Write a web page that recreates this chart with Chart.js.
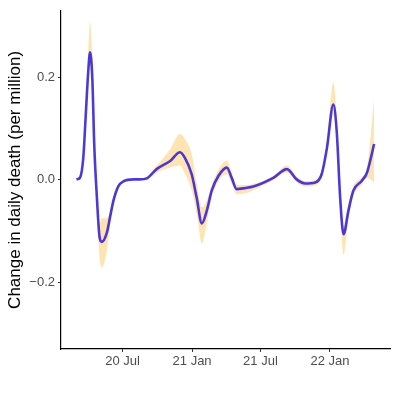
<!DOCTYPE html>
<html lang="en">
<head>
    <meta charset="UTF-8">
    <title>Change in daily death</title>
    <style>
        html, body {
            margin: 0;
            padding: 0;
            background: #ffffff;
        }
        #wrap {
            width: 397px;
            height: 397px;
        }
    </style>
    <script src="https://cdn.jsdelivr.net/npm/chart.js"></script>
</head>
<body>
    <div id="wrap"><canvas id="deathChart" width="397" height="397"></canvas></div>
    <script>
        // smoothed estimate and its interval
        const dates = [
            '2020-03-01', '2020-03-10', '2020-03-19', '2020-03-26', '2020-04-01', '2020-04-06',
            '2020-04-12', '2020-04-17', '2020-04-24', '2020-05-01', '2020-05-07', '2020-05-20',
            '2020-05-29', '2020-06-07', '2020-06-20', '2020-07-03', '2020-07-30', '2020-08-16',
            '2020-09-03', '2020-09-29', '2020-11-04', '2020-11-30', '2020-12-13', '2020-12-31',
            '2021-01-13', '2021-01-27', '2021-02-09', '2021-02-22', '2021-03-12', '2021-04-03',
            '2021-04-16', '2021-04-29', '2021-05-21', '2021-06-12', '2021-08-04', '2021-09-09',
            '2021-10-05', '2021-10-27', '2021-11-23', '2021-12-10', '2021-12-24', '2022-01-10',
            '2022-01-19', '2022-01-28', '2022-02-06', '2022-02-19', '2022-03-04', '2022-03-26',
            '2022-04-09', '2022-04-28'
        ];
        const estimate = [
            0.001, 0.004, 0.043, 0.133, 0.210, 0.249,
            0.197, 0.069, -0.034, -0.111, -0.121, -0.104,
            -0.072, -0.040, -0.012, -0.003, 0.001, 0.001,
            0.003, 0.021, 0.037, 0.054, 0.043, 0.011,
            -0.034, -0.085, -0.060, -0.021, 0.008, 0.024,
            0.004, -0.018, -0.016, -0.013, 0.004, 0.021,
            0.001, -0.007, -0.005, 0.011, 0.062, 0.147,
            0.094, -0.034, -0.106, -0.060, -0.021, -0.002,
            0.014, 0.070
        ];
        const lower = [
            0.000, 0.002, 0.038, 0.120, 0.190, 0.225,
            0.180, 0.055, -0.060, -0.150, -0.171, -0.140,
            -0.090, -0.048, -0.016, -0.005, 0.000, 0.000,
            0.000, 0.014, 0.024, 0.028, 0.012, -0.020,
            -0.065, -0.124, -0.085, -0.035, -0.002, 0.011,
            -0.008, -0.028, -0.026, -0.020, 0.000, 0.014,
            -0.005, -0.013, -0.011, 0.004, 0.050, 0.125,
            0.075, -0.055, -0.146, -0.075, -0.032, -0.010,
            0.004, -0.005
        ];
        const upper = [
            0.002, 0.006, 0.050, 0.150, 0.250, 0.307,
            0.230, 0.085, -0.020, -0.085, -0.075, -0.075,
            -0.060, -0.034, -0.009, -0.001, 0.002, 0.003,
            0.006, 0.028, 0.060, 0.090, 0.080, 0.050,
            -0.005, -0.053, -0.040, -0.010, 0.020, 0.038,
            0.014, -0.010, -0.010, -0.008, 0.008, 0.028,
            0.007, -0.002, 0.000, 0.018, 0.075, 0.190,
            0.120, -0.020, -0.090, -0.045, -0.012, 0.005,
            0.024, 0.160
        ];
        const xTickDates = ['2020-07-01', '2021-01-01', '2021-07-01', '2022-01-01'];
        const xTickLabels = ['20 Jul', '21 Jan', '21 Jul', '22 Jan'];
        const yTicks = [-0.2, 0.0, 0.2];
        const yTickLabels = ['\u22120.2', '0.0', '0.2'];

        // days since 2020-01-01, so a plain linear axis can be used
        function dayNum(s) {
            const p = s.split('-').map(Number);
            return (Date.UTC(p[0], p[1] - 1, p[2]) - Date.UTC(2020, 0, 1)) / 86400000;
        }

        const xs = dates.map(dayNum);
        const xTicks = xTickDates.map(dayNum);
        const pts = (arr) => arr.map((v, i) => ({ x: xs[i], y: v }));

        const ribbonFill = 'rgb(255, 228, 179)';
        const lineColor = 'rgba(45, 25, 215, 0.85)';

        new Chart(document.getElementById('deathChart').getContext('2d'), {
            type: 'line',
            data: {
                datasets: [
                    {
                        label: 'lower',
                        data: pts(lower),
                        borderWidth: 0,
                        pointRadius: 0,
                        fill: false,
                        cubicInterpolationMode: 'monotone',
                        order: 2
                    },
                    {
                        label: 'upper',
                        data: pts(upper),
                        borderWidth: 0,
                        pointRadius: 0,
                        backgroundColor: ribbonFill,
                        fill: '-1',
                        cubicInterpolationMode: 'monotone',
                        order: 1
                    },
                    {
                        label: 'estimate',
                        data: pts(estimate),
                        borderColor: lineColor,
                        borderWidth: 2.6,
                        pointRadius: 0,
                        fill: false,
                        cubicInterpolationMode: 'monotone',
                        order: 0
                    }
                ]
            },
            options: {
                responsive: false,
                animation: false,
                layout: {
                    padding: { top: 8, right: 7, left: 0, bottom: 0 }
                },
                plugins: {
                    legend: { display: false },
                    tooltip: { enabled: false }
                },
                scales: {
                    x: {
                        type: 'linear',
                        min: 19,
                        max: 890,
                        afterBuildTicks: (scale) => {
                            scale.ticks = xTicks.map(v => ({ value: v }));
                        },
                        afterFit: (scale) => {
                            scale.height = 48;
                        },
                        ticks: {
                            autoSkip: false,
                            maxRotation: 0,
                            padding: 2,
                            color: '#4d4d4d',
                            font: { family: 'Liberation Sans', size: 13 },
                            callback: (value) => {
                                const i = xTicks.indexOf(value);
                                return i >= 0 ? xTickLabels[i] : '';
                            }
                        },
                        grid: {
                            drawOnChartArea: false,
                            drawTicks: true,
                            tickLength: 3,
                            color: '#333333'
                        },
                        border: { display: true, color: '#000000', width: 1.2 }
                    },
                    y: {
                        type: 'linear',
                        min: -0.33,
                        max: 0.33,
                        afterBuildTicks: (scale) => {
                            scale.ticks = yTicks.map(v => ({ value: v }));
                        },
                        afterFit: (scale) => {
                            scale.width = 61;
                        },
                        ticks: {
                            padding: 3,
                            color: '#4d4d4d',
                            font: { family: 'Liberation Sans', size: 13 },
                            callback: (value) => {
                                const i = yTicks.findIndex(t => Math.abs(t - value) < 1e-9);
                                return i >= 0 ? yTickLabels[i] : '';
                            }
                        },
                        grid: {
                            drawOnChartArea: false,
                            drawTicks: true,
                            tickLength: 3,
                            color: '#333333'
                        },
                        border: { display: true, color: '#000000', width: 1.2 },
                        title: {
                            display: true,
                            text: 'Change in daily death (per million)',
                            color: '#000000',
                            font: { family: 'Liberation Sans', size: 17 },
                            padding: { top: 5, bottom: 4 }
                        }
                    }
                }
            }
        });
    </script>
</body>
</html>
